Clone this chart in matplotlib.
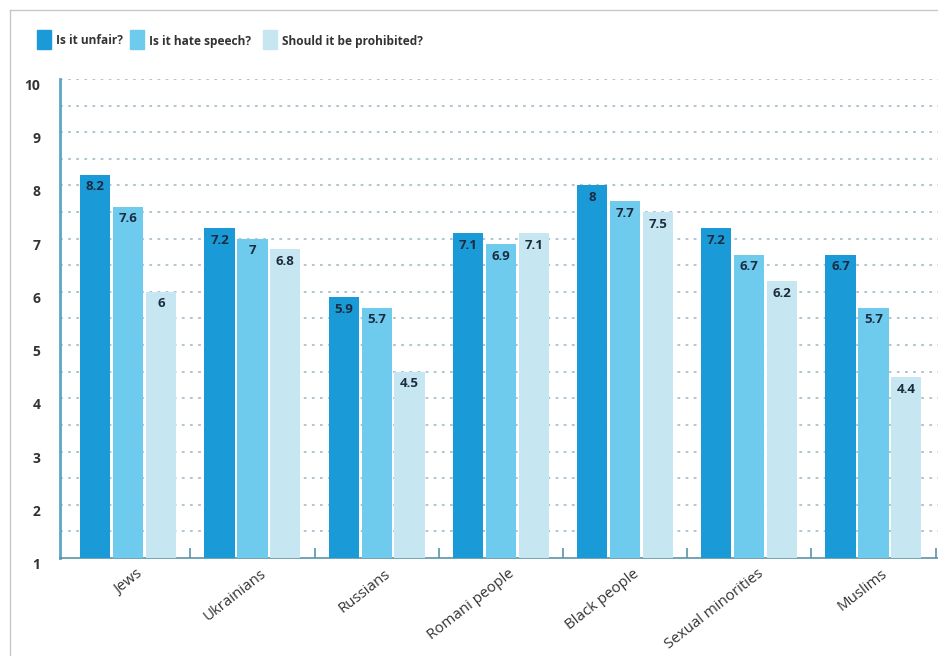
import matplotlib
matplotlib.use("Agg")
import matplotlib.pyplot as plt
from matplotlib.lines import Line2D
from matplotlib.patches import Rectangle
import matplotlib.transforms as mtransforms
import numpy as np

categories = ["Jews", "Ukrainians", "Russians", "Romani people", "Black people",
              "Sexual minorities", "Muslims"]
unfair = [8.2, 7.2, 5.9, 7.1, 8, 7.2, 6.7]
hate_speech = [7.6, 7, 5.7, 6.9, 7.7, 6.7, 5.7]
prohibited = [6, 6.8, 4.5, 7.1, 7.5, 6.2, 4.4]
series_names = ["Is it unfair?", "Is it hate speech?", "Should it be prohibited?"]
yticks = [1, 2, 3, 4, 5, 6, 7, 8, 9, 10]

colors = ["#1a9ad6", "#6ecbee", "#c6e6f2"]
font = ["Open Sans", "DejaVu Sans"]
W, H = 938, 656
fig = plt.figure(figsize=(W / 100, H / 100), dpi=100)
ax = fig.add_axes([60 / W, 1 - 558 / H, 1 - 60 / W, (558 - 79) / H])

x = np.arange(len(categories))
pitch = 0.265
width = 0.243
series = [unfair, hate_speech, prohibited]
ymin = 1
for k, (vals, col) in enumerate(zip(series, colors)):
    xs = x + (k - 1) * pitch
    heights = [v - ymin for v in vals]
    ax.bar(xs, heights, width=width, bottom=ymin, color=col, zorder=3)
    for xi, v in zip(xs, vals):
        lab = f"{v:g}"
        ax.annotate(lab, (xi, v), xytext=(0, -4), textcoords="offset points",
                    ha="center", va="top", fontsize=9.5, fontweight="bold",
                    color="#1c2b3f", family=font, zorder=4)

ax.set_xlim(-0.55, 6.52)
ax.set_ylim(1, 10)

# dotted grid at every half unit
for g in np.arange(1.5, 10.01, 0.5):
    ax.axhline(g, color="#a9c0ce", linestyle=(0, (1.5, 3)), linewidth=1.3, zorder=1)

ax.set_yticks(yticks)
ax.set_yticklabels([str(t) for t in yticks], fontsize=10, fontweight="bold",
                   color="#333333", family=font)
ax.tick_params(axis="y", length=0, pad=14)
offset = mtransforms.ScaledTranslation(0, -4 / 72, fig.dpi_scale_trans)
for lab in ax.get_yticklabels():
    lab.set_transform(lab.get_transform() + offset)

# group boundary ticks
ax.set_xticks(x + 0.5)
ax.set_xticklabels([])
ax.tick_params(axis="x", direction="in", length=7, width=1.2, color="#5b93a8")
for xi, c in zip(x, categories):
    ax.annotate(c, (xi + 0.06, 1), xytext=(0, -6), textcoords="offset points",
                rotation=38, ha="right", va="top", rotation_mode="anchor",
                fontsize=10.8, color="#333333", family=font, annotation_clip=False)

for s in ["top", "right"]:
    ax.spines[s].set_visible(False)
ax.spines["left"].set_color("#5aa8c4")
ax.spines["left"].set_linewidth(2)
ax.spines["bottom"].set_color("#5b93a8")
ax.spines["bottom"].set_linewidth(1.2)

# legend
lx = [37, 130, 263]
for k, (name, col) in enumerate(zip(series_names, colors)):
    fig.add_artist(Rectangle((lx[k] / W, 1 - 49 / H), 14 / W, 19 / H,
                             transform=fig.transFigure, color=col))
    fig.text((lx[k] + 19) / W, 1 - 41 / H, name, fontsize=8.6, fontweight="bold",
             color="#333333", va="center", ha="left", family=font)

# figure border
fig.add_artist(Line2D([10 / W, 1], [1 - 10 / H, 1 - 10 / H], color="#c8c8c8",
                      linewidth=1, transform=fig.transFigure))
fig.add_artist(Line2D([10 / W, 10 / W], [0, 1 - 10 / H], color="#c8c8c8",
                      linewidth=1, transform=fig.transFigure))

fig.savefig("out.png", dpi=100)
